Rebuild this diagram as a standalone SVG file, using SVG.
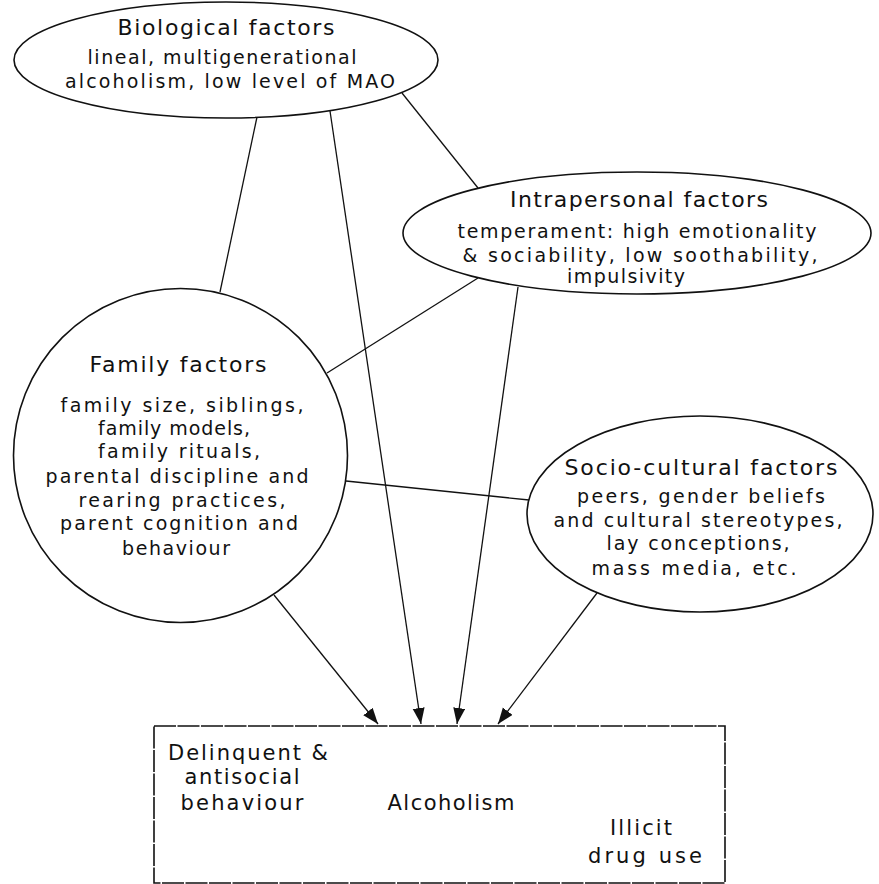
<svg xmlns="http://www.w3.org/2000/svg" width="879" height="884" viewBox="0 0 879 884">
<style>
.sh{fill:#fff;stroke:#111;stroke-width:1.6}
.ln{fill:none;stroke:#111;stroke-width:1.3}
.ar{fill:none;stroke:#111;stroke-width:1.3;marker-end:url(#ah)}
text{font-family:"DejaVu Sans","Liberation Sans",sans-serif;fill:#111;text-anchor:middle}
.t{font-size:22px}
.b{font-size:19px}
.x{font-size:21px}
</style>
<defs>
<marker id="ah" markerUnits="userSpaceOnUse" markerWidth="18" markerHeight="14" refX="16" refY="6" orient="auto">
<path d="M0,0 L16,6 L0,12 Z" fill="#111"/>
</marker>
</defs>
<g id="connectors">
<line class="ln" x1="257" y1="117" x2="220" y2="292"/>
<line class="ln" x1="402" y1="93" x2="478" y2="188"/>
<line class="ln" x1="478" y1="278" x2="327" y2="373"/>
<line class="ln" x1="346" y1="481" x2="529" y2="500"/>
<line class="ar" x1="330" y1="111" x2="421" y2="724"/>
<line class="ar" x1="518" y1="287" x2="457" y2="724"/>
<line class="ar" x1="274" y1="595" x2="378" y2="724"/>
<line class="ar" x1="597" y1="593" x2="498" y2="724"/>
</g>
<g id="biological">
<ellipse class="sh" cx="226" cy="60" rx="212" ry="58"/>
<text class="t" x="226" y="35" textLength="217" lengthAdjust="spacing">Biological factors</text>
<text class="b" x="222" y="64" textLength="269" lengthAdjust="spacing">lineal, multigenerational</text>
<text class="b" x="230" y="88" textLength="330" lengthAdjust="spacing">alcoholism, low level of MAO</text>
</g>
<g id="intrapersonal">
<ellipse class="sh" cx="637" cy="233" rx="234" ry="61"/>
<text class="t" x="639" y="207" textLength="258" lengthAdjust="spacing">Intrapersonal factors</text>
<text class="b" x="637" y="238" textLength="359" lengthAdjust="spacing">temperament: high emotionality</text>
<text class="b" x="640" y="262" textLength="355" lengthAdjust="spacing">&amp; sociability, low soothability,</text>
<text class="b" x="626" y="283" textLength="118" lengthAdjust="spacing">impulsivity</text>
</g>
<g id="family">
<circle class="sh" cx="180.5" cy="455.5" r="167"/>
<text class="t" x="178" y="372" textLength="177" lengthAdjust="spacing">Family factors</text>
<text class="b" x="182" y="412" textLength="243" lengthAdjust="spacing">family size, siblings,</text>
<text class="b" x="174" y="435" textLength="152" lengthAdjust="spacing">family models,</text>
<text class="b" x="179" y="458" textLength="162" lengthAdjust="spacing">family rituals,</text>
<text class="b" x="177" y="483" textLength="263" lengthAdjust="spacing">parental discipline and</text>
<text class="b" x="182" y="507" textLength="207" lengthAdjust="spacing">rearing practices,</text>
<text class="b" x="179" y="530" textLength="238" lengthAdjust="spacing">parent cognition and</text>
<text class="b" x="176" y="555" textLength="108" lengthAdjust="spacing">behaviour</text>
</g>
<g id="sociocultural">
<ellipse class="sh" cx="700" cy="514" rx="173" ry="98"/>
<text class="t" x="701" y="475" textLength="273" lengthAdjust="spacing">Socio-cultural factors</text>
<text class="b" x="701" y="503" textLength="248" lengthAdjust="spacing">peers, gender beliefs</text>
<text class="b" x="698" y="527" textLength="289" lengthAdjust="spacing">and cultural stereotypes,</text>
<text class="b" x="698" y="550" textLength="183" lengthAdjust="spacing">lay conceptions,</text>
<text class="b" x="694" y="575" textLength="205" lengthAdjust="spacing">mass media, etc.</text>
</g>
<g id="outcomes">
<rect class="sh" x="154" y="726" width="571" height="157" stroke-dasharray="22 1.5"/>
<text class="x" x="248" y="760" textLength="160" lengthAdjust="spacing">Delinquent &amp;</text>
<text class="x" x="242" y="784" textLength="115" lengthAdjust="spacing">antisocial</text>
<text class="x" x="242" y="810" textLength="123" lengthAdjust="spacing">behaviour</text>
<text class="x" x="451" y="810" textLength="127" lengthAdjust="spacing">Alcoholism</text>
<text class="x" x="641" y="835" textLength="62" lengthAdjust="spacing">Illicit</text>
<text class="x" x="645" y="863" textLength="114" lengthAdjust="spacing">drug use</text>
</g>
</svg>
